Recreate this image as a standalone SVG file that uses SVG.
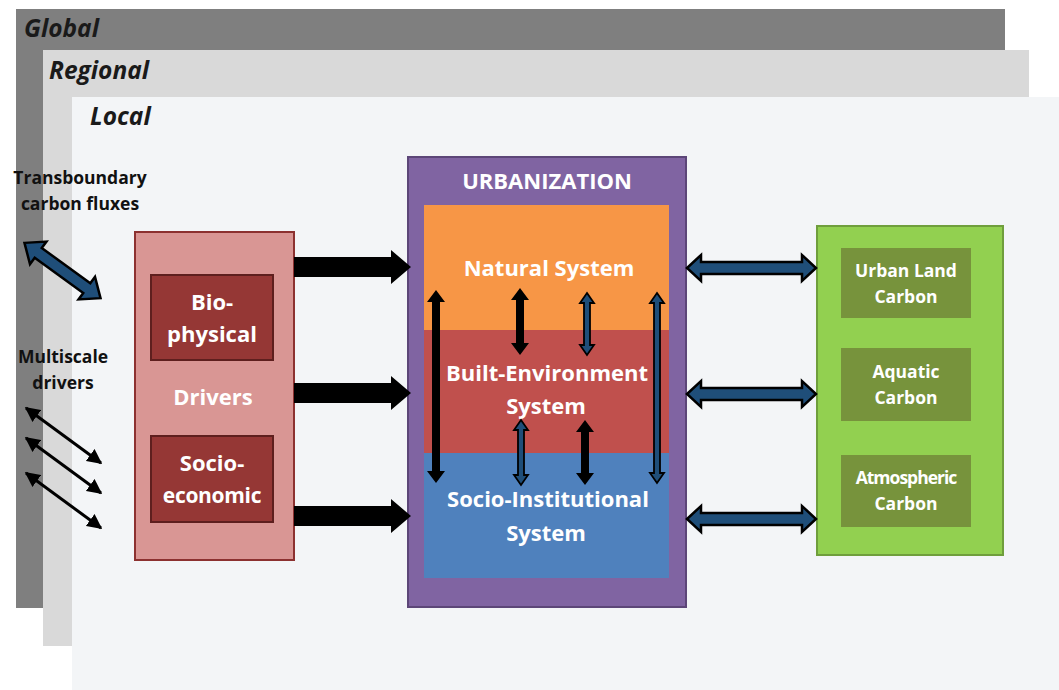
<svg xmlns="http://www.w3.org/2000/svg" width="1059" height="690" viewBox="0 0 1059 690">
<style>
.lbl{font-family:"Open Sans",Lato,sans-serif;font-weight:bold;}
.scale{font-family:"Open Sans",Lato,sans-serif;font-weight:bold;font-style:italic;font-size:24.5px;fill:#1a1a1a;}
.w{fill:#ffffff;text-anchor:middle;}
.m{font-size:22px;}
.g{font-size:17.5px;}
.k{fill:#111111;text-anchor:middle;font-size:17.5px;}
.blk{fill:#000000;}
.blu{fill:#1f4e79;stroke:#000;stroke-width:2.5;stroke-linejoin:miter;}
.vblk{fill:#000000;}
.vblu{fill:#1f4e79;stroke:#000;stroke-width:1.8;}
</style>
<defs>
<marker id="ah" viewBox="0 0 10 10" refX="9" refY="5" markerWidth="5" markerHeight="5" orient="auto-start-reverse">
<path d="M0,0 L10,5 L0,10 Z" fill="#000"/>
</marker>
</defs>
<rect width="1059" height="690" fill="#ffffff"/>
<g id="global"><rect x="16" y="9" width="989" height="599" fill="#7f7f7f"/><text class="scale" x="24" y="37">Global</text></g>
<g id="regional"><rect x="43" y="50" width="986" height="596" fill="#d9d9d9"/><text class="scale" x="49" y="79">Regional</text></g>
<g id="local"><rect x="72" y="97" width="987" height="593" fill="#f3f5f7"/><text class="scale" x="90" y="125">Local</text></g>

<g id="transboundary">
<text class="lbl k" x="80" y="184">Transboundary</text>
<text class="lbl k" x="80" y="210">carbon fluxes</text>
</g>
<g id="multiscale">
<text class="lbl k" x="63" y="363">Multiscale</text>
<text class="lbl k" x="63" y="389">drivers</text>
</g>

<g id="drivers">
<rect x="135" y="232" width="159" height="328" fill="#d99694" stroke="#8c3130" stroke-width="2"/>
<text class="lbl w m" x="213" y="405">Drivers</text>
</g>
<g id="biophysical">
<rect x="151" y="275" width="122" height="85" fill="#953735" stroke="#5e1f1e" stroke-width="2"/>
<text class="lbl w m" x="212" y="310">Bio-</text>
<text class="lbl w m" x="212" y="342">physical</text>
</g>
<g id="socioeconomic">
<rect x="151" y="436" width="122" height="86" fill="#953735" stroke="#5e1f1e" stroke-width="2"/>
<text class="lbl w m" x="212" y="471">Socio-</text>
<text class="lbl w" x="212" y="503" font-size="21" letter-spacing="-0.3">economic</text>
</g>

<g id="urbanization">
<rect x="408" y="157" width="278" height="450" fill="#8064a2" stroke="#5c4678" stroke-width="2"/>
<text class="lbl w m" x="547" y="189">URBANIZATION</text>
</g>
<g id="natural">
<rect x="424" y="205" width="245" height="126" fill="#f79646"/>
<text class="lbl w m" x="549" y="276">Natural System</text>
</g>
<g id="built">
<rect x="424" y="330" width="245" height="124" fill="#c0504d"/>
<text class="lbl w m" x="547" y="381">Built-Environment</text>
<text class="lbl w m" x="546" y="414">System</text>
</g>
<g id="socioinst">
<rect x="424" y="453" width="245" height="125" fill="#4f81bd"/>
<text class="lbl w m" x="548" y="507">Socio-Institutional</text>
<text class="lbl w m" x="546" y="541">System</text>
</g>

<g id="carbon">
<rect x="817" y="226" width="186" height="329" fill="#92d050" stroke="#6f9e3c" stroke-width="2"/>
</g>
<g id="urbanland">
<rect x="841" y="248" width="130" height="70" fill="#77933c"/>
<text class="lbl w g" x="906" y="277">Urban Land</text>
<text class="lbl w g" x="906" y="303">Carbon</text>
</g>
<g id="aquatic">
<rect x="841" y="348" width="130" height="73" fill="#77933c"/>
<text class="lbl w g" x="906" y="378">Aquatic</text>
<text class="lbl w g" x="906" y="404">Carbon</text>
</g>
<g id="atmospheric">
<rect x="841" y="455" width="130" height="72" fill="#77933c"/>
<text class="lbl w g" x="906" y="484" letter-spacing="-1">Atmospheric</text>
<text class="lbl w g" x="906" y="510">Carbon</text>
</g>

<g id="connectors">
<path class="blk" d="M294,257 L391,257 L391,250 L411,267 L391,284 L391,277 L294,277 Z"/>
<path class="blk" d="M294,383 L391,383 L391,376 L411,393 L391,410 L391,403 L294,403 Z"/>
<path class="blk" d="M294,506 L391,506 L391,499 L411,516 L391,533 L391,526 L294,526 Z"/>
<path class="blu" d="M687,268 L701,255 L701,262 L802,262 L802,255 L816,268 L802,281 L802,274 L701,274 L701,281 Z"/>
<path class="blu" d="M687,394 L701,381 L701,388 L802,388 L802,381 L816,394 L802,407 L802,400 L701,400 L701,407 Z"/>
<path class="blu" d="M687,519 L701,506 L701,513 L802,513 L802,506 L816,519 L802,532 L802,525 L701,525 L701,532 Z"/>
<g transform="translate(62.5,270.5) rotate(36)">
<path class="blu" d="M-47,0 L-30,-14 L-30,-6 L30,-6 L30,-14 L47,0 L30,14 L30,6 L-30,6 L-30,14 Z"/>
</g>
<line x1="26" y1="408" x2="101" y2="463" stroke="#000" stroke-width="3" marker-start="url(#ah)" marker-end="url(#ah)"/>
<line x1="26" y1="438" x2="101" y2="493" stroke="#000" stroke-width="3" marker-start="url(#ah)" marker-end="url(#ah)"/>
<line x1="26" y1="473" x2="101" y2="528" stroke="#000" stroke-width="3" marker-start="url(#ah)" marker-end="url(#ah)"/>
<path class="vblk" d="M436,290 L445,302 L440,302 L440,471 L445,471 L436,483 L427,471 L432,471 L432,302 L427,302 Z"/>
<path class="vblk" d="M520,288 L529,300 L524,300 L524,343 L529,343 L520,355 L511,343 L516,343 L516,300 L511,300 Z"/>
<path class="vblu" d="M587,293 L594,303 L590,303 L590,345 L594,345 L587,355 L580,345 L584,345 L584,303 L580,303 Z"/>
<path class="vblu" d="M657,293 L664,303 L660,303 L660,473 L664,473 L657,483 L650,473 L654,473 L654,303 L650,303 Z"/>
<path class="vblu" d="M521,420 L528,430 L524,430 L524,475 L528,475 L521,485 L514,475 L518,475 L518,430 L514,430 Z"/>
<path class="vblk" d="M585,420 L594,432 L589,432 L589,473 L594,473 L585,485 L576,473 L581,473 L581,432 L576,432 Z"/>
</g>
</svg>
